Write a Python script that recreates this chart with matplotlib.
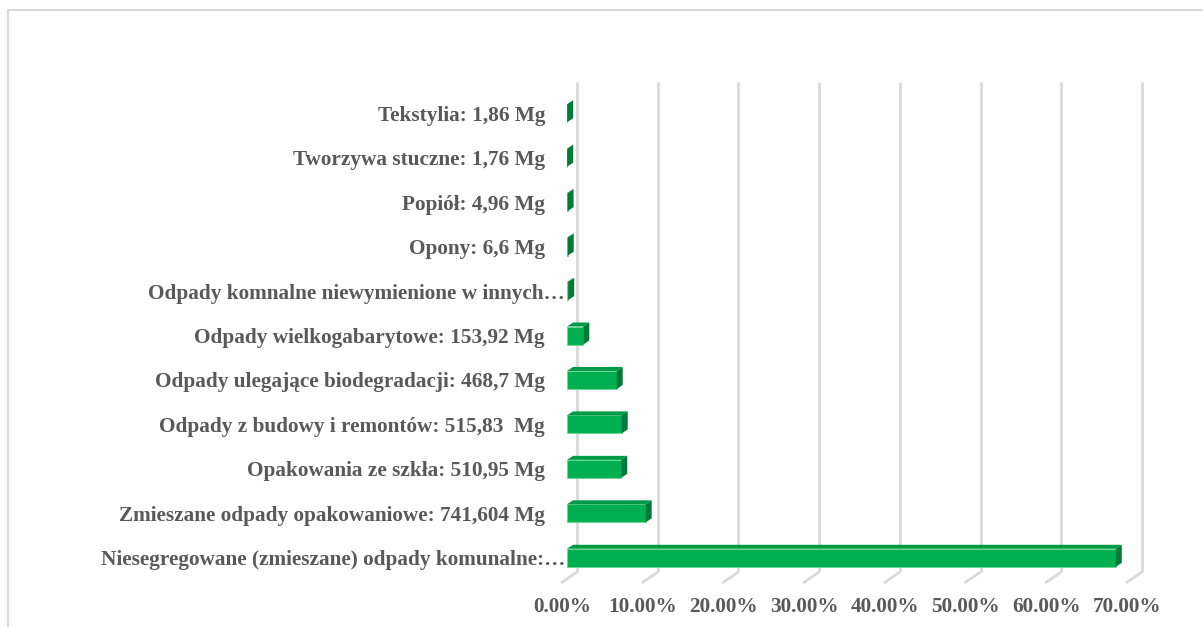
import matplotlib
matplotlib.use("Agg")
import matplotlib.pyplot as plt
import matplotlib.transforms as mtransforms
from matplotlib.patches import Polygon, Rectangle

# ---- data (bottom to top) ----
categories = [
    "Niesegregowane (zmieszane) odpady komunalne:…",
    "Zmieszane odpady opakowaniowe: 741,604 Mg",
    "Opakowania ze szkła: 510,95 Mg",
    "Odpady z budowy i remontów: 515,83  Mg",
    "Odpady ulegające biodegradacji: 468,7 Mg",
    "Odpady wielkogabarytowe: 153,92 Mg",
    "Odpady komnalne niewymienione w innych…",
    "Opony: 6,6 Mg",
    "Popiół: 4,96 Mg",
    "Tworzywa stuczne: 1,76 Mg",
    "Tekstylia: 1,86 Mg",
]
shares = [68.0, 9.75, 6.72, 6.78, 6.16, 2.02, 0.15, 0.09, 0.07, 0.02, 0.02]
x_ticks = [0, 10, 20, 30, 40, 50, 60, 70]
x_tick_labels = ["0.00%", "10.00%", "20.00%", "30.00%", "40.00%", "50.00%", "60.00%", "70.00%"]

W, H = 1203, 627
fig = plt.figure(figsize=(W / 100, H / 100), dpi=100)

# axes geometry (pixels)
ax_left_px, ax_right_px = 567, 567 + 70 * 8.07
ax_top_px, ax_bot_px = 91, 580
ax = fig.add_axes([ax_left_px / W, (H - ax_bot_px) / H,
                   (ax_right_px - ax_left_px) / W, (ax_bot_px - ax_top_px) / H])
ax.set_xlim(0, 70)
ax.set_ylim(-0.5, 10.5)
sx = (ax_right_px - ax_left_px) / 70.0        # px per %
sy = (ax_bot_px - ax_top_px) / 11.0           # px per category

for s in ax.spines.values():
    s.set_visible(False)
ax.set_xticks([])

text_color = "#595959"
fsize = 15.3
font = dict(family="Liberation Serif", weight="bold", size=fsize, color=text_color)

ax.set_yticks(range(len(categories)))
ax.set_yticklabels(categories, fontfamily="Liberation Serif", fontweight="bold",
                   fontsize=fsize, color=text_color)
ax.tick_params(axis="y", length=0, pad=15.8)
# truncated labels (ending with an ellipsis) sit a bit further right
shift = mtransforms.ScaledTranslation(20 / 100, 0, fig.dpi_scale_trans)
for lab in ax.get_yticklabels():
    if lab.get_text().endswith("…"):
        lab.set_transform(lab.get_transform() + shift)

# back-plane gridlines with floor diagonals
grid_c = "#D9D9D9"
back_dx = 10 / sx
yb = -0.5 + (ax_bot_px - 572) / sy
yt = 10.5 + (ax_top_px - 82) / sy
for v in x_ticks:
    xb = v + back_dx
    ax.plot([xb, xb], [yb, yt], color=grid_c, lw=2, zorder=1, clip_on=False,
            solid_capstyle="butt")
    ax.plot([xb, xb - 16 / sx], [yb, yb - 11 / sy], color=grid_c, lw=2, zorder=1,
            clip_on=False, solid_capstyle="butt")

# x tick labels on the floor front edge
for v, lab in zip(x_ticks, x_tick_labels):
    ax.text(v - 5 / sx, -0.5 - 27 / sy, lab, ha="center", va="center",
            clip_on=False, **font)

# 3D bars
front_c, top_c, side_c = "#00B050", "#009A45", "#007A36"
h = 18 / sy
ddx, ddy = 6 / sx, 4 / sy
for i, v in enumerate(shares):
    y0, y1 = i - h / 2, i + h / 2
    ax.add_patch(Rectangle((0, y0), v, h, facecolor=front_c,
                           edgecolor="#6FD896", lw=0.7, zorder=3))
    ax.add_patch(Polygon([(0, y1), (v, y1), (v + ddx, y1 + ddy), (ddx, y1 + ddy)],
                         closed=True, facecolor=top_c, edgecolor="none", zorder=3))
    ax.add_patch(Polygon([(v, y0), (v, y1), (v + ddx, y1 + ddy), (v + ddx, y0 + ddy)],
                         closed=True, facecolor=side_c, edgecolor="none", zorder=3))

# chart border (top and left visible)
fig.add_artist(Rectangle((8 / W, -0.05), 1.2, (H - 10) / H + 0.05,
                         transform=fig.transFigure, fill=False,
                         edgecolor="#D9D9D9", lw=1.5))

fig.savefig("out.png", dpi=100)
